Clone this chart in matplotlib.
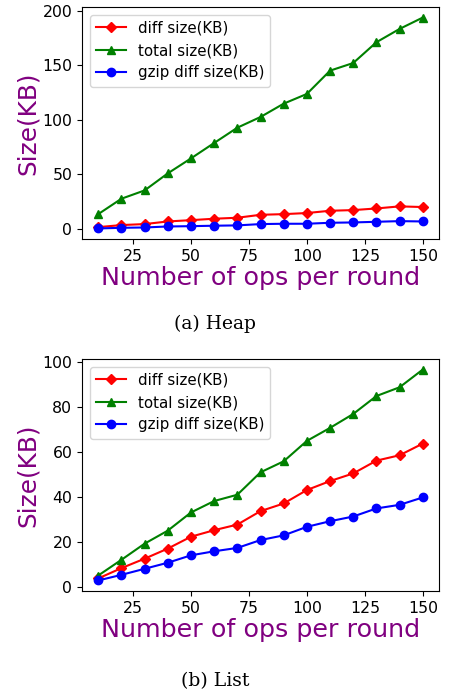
import matplotlib
matplotlib.use("Agg")
import matplotlib.pyplot as plt

ops = [10, 20, 30, 40, 50, 60, 70, 80, 90, 100, 110, 120, 130, 140, 150]

# (a) Heap
heap_diff = [1.8, 3.7, 4.6, 7.0, 8.2, 9.5, 10.4, 13.1, 13.7, 14.7, 16.8, 17.4, 18.9, 20.8, 20.2]
heap_total = [13.7, 27.8, 35.4, 51.0, 64.7, 78.8, 92.8, 102.6, 114.8, 123.7, 145.0, 152.0, 171.0, 183.2, 193.6]
heap_gzip = [0.6, 1.2, 1.5, 2.4, 2.7, 3.1, 3.4, 4.6, 4.9, 4.9, 5.8, 6.1, 6.7, 7.3, 7.0]

# (b) List
list_diff = [3.6, 8.2, 12.4, 16.9, 22.2, 25.1, 27.6, 33.6, 37.0, 43.0, 47.0, 50.4, 56.1, 58.5, 63.7]
list_total = [4.9, 11.9, 19.1, 24.9, 33.0, 38.1, 40.9, 50.9, 55.8, 64.9, 70.7, 76.9, 84.9, 88.8, 96.7]
list_gzip = [2.7, 5.2, 7.9, 10.6, 13.9, 15.7, 17.2, 20.7, 22.8, 26.6, 29.1, 31.2, 34.8, 36.4, 39.7]

captions = ["(a) Heap", "(b) List"]

W, H = 449, 694
fig = plt.figure(figsize=(W / 100, H / 100), dpi=100)

def add_panel(top, bottom, diff, total, gzip, caption, cap_y):
    ax = fig.add_axes([82 / W, 1 - bottom / H, 357 / W, (bottom - top) / H])
    ax.plot(ops, diff, color="red", marker="D", markersize=5.5, label="diff size(KB)")
    ax.plot(ops, total, color="green", marker="^", markersize=6, label="total size(KB)")
    ax.plot(ops, gzip, color="blue", marker="o", markersize=6, label="gzip diff size(KB)")
    ax.set_xticks([25, 50, 75, 100, 125, 150])
    ax.tick_params(labelsize=11.3)
    ax.set_ylabel("Size(KB)", color="purple", fontsize=17.8, labelpad=2)
    ax.set_xlabel("Number of ops per round", color="purple", fontsize=18.3, labelpad=2)
    ax.legend(loc="upper left", fontsize=10.8)
    fig.text(215 / W, 1 - cap_y / H, caption, ha="center", va="center",
             fontsize=13.5, family="DejaVu Serif")
    return ax

add_panel(7, 239, heap_diff, heap_total, heap_gzip, captions[0], 324)
add_panel(359, 591, list_diff, list_total, list_gzip, captions[1], 681)

fig.savefig("out.png", dpi=100)
